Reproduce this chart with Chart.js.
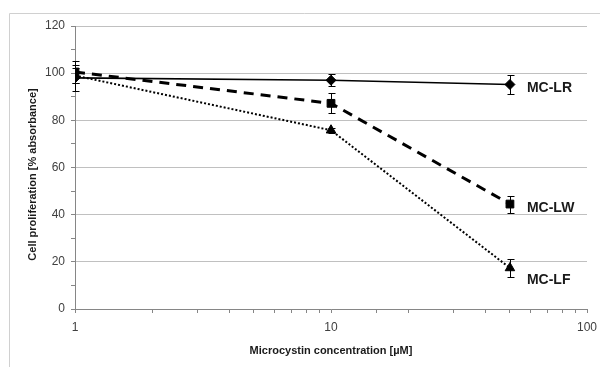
<!DOCTYPE html>
<html>
<head>
<meta charset="utf-8">
<script src="https://cdn.jsdelivr.net/npm/chart.js@4/dist/chart.umd.min.js"></script>
<style>
  html, body { margin: 0; padding: 0; background: #fff; }
  #wrap { position: relative; width: 600px; height: 367px; }
</style>
</head>
<body>
<div id="wrap"><canvas id="chart" width="600" height="367"></canvas></div>
<script>
// Microcystin concentrations (µM)
const concentrations = [1, 10, 50];

// Mean cell proliferation (% absorbance) and standard deviations
const mcLR = [98, 97, 95.2];
const mcLRErr = [5.5, 2.5, 3.9];
const mcLW = [100.5, 87.2, 44.5];
const mcLWErr = [4.5, 4.2, 3.6];
const mcLF = [99, 75.8, 17.4];
const mcLFErr = [3, 1, 4];

const seriesNames = ['MC-LR', 'MC-LW', 'MC-LF'];
const xTickLabels = [1, 10, 100];
const yTickLabels = [0, 20, 40, 60, 80, 100, 120];
const xTitle = 'Microcystin concentration [µM]';
const yTitle = 'Cell proliferation [% absorbance]';

const toPoints = vals => vals.map((v, i) => ({ x: concentrations[i], y: v }));
const errors = [mcLRErr, mcLWErr, mcLFErr];

const fontFamily = '"Liberation Sans", Arial, sans-serif';

// Outer frame line along the top and left edge
const framePlugin = {
  id: 'frame',
  beforeDraw(chart) {
    const ctx = chart.ctx;
    ctx.save();
    ctx.strokeStyle = '#d0d0d0';
    ctx.lineWidth = 1;
    ctx.beginPath();
    ctx.moveTo(9.5, 367);
    ctx.lineTo(9.5, 13.5);
    ctx.lineTo(600, 13.5);
    ctx.stroke();
    ctx.restore();
  }
};

// Axis titles
const axisTitlePlugin = {
  id: 'axisTitles',
  afterDraw(chart) {
    const ctx = chart.ctx;
    const area = chart.chartArea;
    ctx.save();
    ctx.font = 'bold 11px ' + fontFamily;
    ctx.fillStyle = '#1a1a1a';
    ctx.textAlign = 'center';
    ctx.textBaseline = 'middle';
    ctx.fillText(xTitle, (area.left + area.right) / 2, area.bottom + 42);
    ctx.translate(33, (area.top + area.bottom) / 2 + 7);
    ctx.rotate(-Math.PI / 2);
    ctx.fillText(yTitle, 0, 0);
    ctx.restore();
  }
};

// Vertical error bars with caps, positioned through the chart scales
const errorBarPlugin = {
  id: 'errorBars',
  afterDatasetsDraw(chart) {
    const ctx = chart.ctx;
    const yScale = chart.scales.y;
    ctx.save();
    ctx.strokeStyle = '#000';
    ctx.lineWidth = 1;
    chart.data.datasets.forEach((ds, di) => {
      const meta = chart.getDatasetMeta(di);
      meta.data.forEach((pt, i) => {
        const v = ds.data[i].y;
        const e = errors[di][i];
        const x = Math.round(pt.x) + 0.5;
        const yTop = Math.round(yScale.getPixelForValue(v + e)) + 0.5;
        const yBot = Math.round(yScale.getPixelForValue(v - e)) + 0.5;
        ctx.beginPath();
        ctx.moveTo(x, yTop); ctx.lineTo(x, yBot);
        ctx.moveTo(x - 3, yTop); ctx.lineTo(x + 4, yTop);
        ctx.moveTo(x - 3, yBot); ctx.lineTo(x + 4, yBot);
        ctx.stroke();
      });
    });
    ctx.restore();
  }
};

// Series names written next to the last point of each line
const seriesLabelPlugin = {
  id: 'seriesLabels',
  afterDatasetsDraw(chart, args, opts) {
    const ctx = chart.ctx;
    ctx.save();
    ctx.font = 'bold 14px ' + fontFamily;
    ctx.fillStyle = '#1a1a1a';
    ctx.textAlign = 'left';
    ctx.textBaseline = 'middle';
    chart.data.datasets.forEach((ds, di) => {
      const meta = chart.getDatasetMeta(di);
      const last = meta.data[meta.data.length - 1];
      ctx.fillText(ds.label, last.x + opts.dx, last.y + opts.dy[di]);
    });
    ctx.restore();
  }
};

new Chart(document.getElementById('chart'), {
  type: 'line',
  data: {
    datasets: [
      {
        label: seriesNames[0],
        data: toPoints(mcLR),
        borderColor: '#000',
        backgroundColor: '#000',
        borderWidth: 1.6,
        pointStyle: 'rectRot',
        pointRadius: 5,
        pointBorderWidth: 1
      },
      {
        label: seriesNames[1],
        data: toPoints(mcLW),
        borderColor: '#000',
        backgroundColor: '#000',
        borderWidth: 3,
        borderDash: [10, 7],
        pointStyle: 'rect',
        pointRadius: 5.5,
        pointBorderWidth: 1
      },
      {
        label: seriesNames[2],
        data: toPoints(mcLF),
        borderColor: '#000',
        backgroundColor: '#000',
        borderWidth: 2,
        borderDash: [2, 2],
        pointStyle: 'triangle',
        pointRadius: 5.5,
        pointBorderWidth: 1
      }
    ]
  },
  options: {
    responsive: false,
    animation: false,
    layout: { padding: { top: 26, right: 13, left: 0, bottom: 0 } },
    plugins: {
      legend: { display: false },
      tooltip: { enabled: false },
      seriesLabels: { dx: 17, dy: [3.5, 4, 12] }
    },
    scales: {
      x: {
        type: 'logarithmic',
        min: 1,
        max: 100,
        afterFit(scale) {
          scale.height = 58;
          scale.paddingLeft = 0;
          scale.paddingRight = 0;
        },
        border: { color: '#868686', width: 1 },
        grid: {
          drawOnChartArea: false,
          drawTicks: true,
          tickLength: 4,
          color: '#868686'
        },
        ticks: {
          autoSkip: false,
          maxRotation: 0,
          padding: 7,
          color: '#404040',
          font: { family: fontFamily, size: 12 },
          callback(value) {
            return xTickLabels.includes(value) ? String(value) : '';
          }
        }
      },
      y: {
        min: 0,
        max: 120,
        afterFit(scale) { scale.width = 75; },
        border: { color: '#868686', width: 1 },
        grid: {
          drawTicks: true,
          tickLength: 4,
          color(ctx) {
            return ctx.tick && yTickLabels.includes(ctx.tick.value) ? '#c0c0c0' : 'rgba(0,0,0,0)';
          },
          tickColor: '#868686'
        },
        ticks: {
          stepSize: 10,
          padding: 6,
          color: '#404040',
          font: { family: fontFamily, size: 12 },
          callback(value) {
            return yTickLabels.includes(value) ? String(value) : '';
          }
        }
      }
    }
  },
  plugins: [framePlugin, axisTitlePlugin, errorBarPlugin, seriesLabelPlugin]
});
</script>
</body>
</html>
